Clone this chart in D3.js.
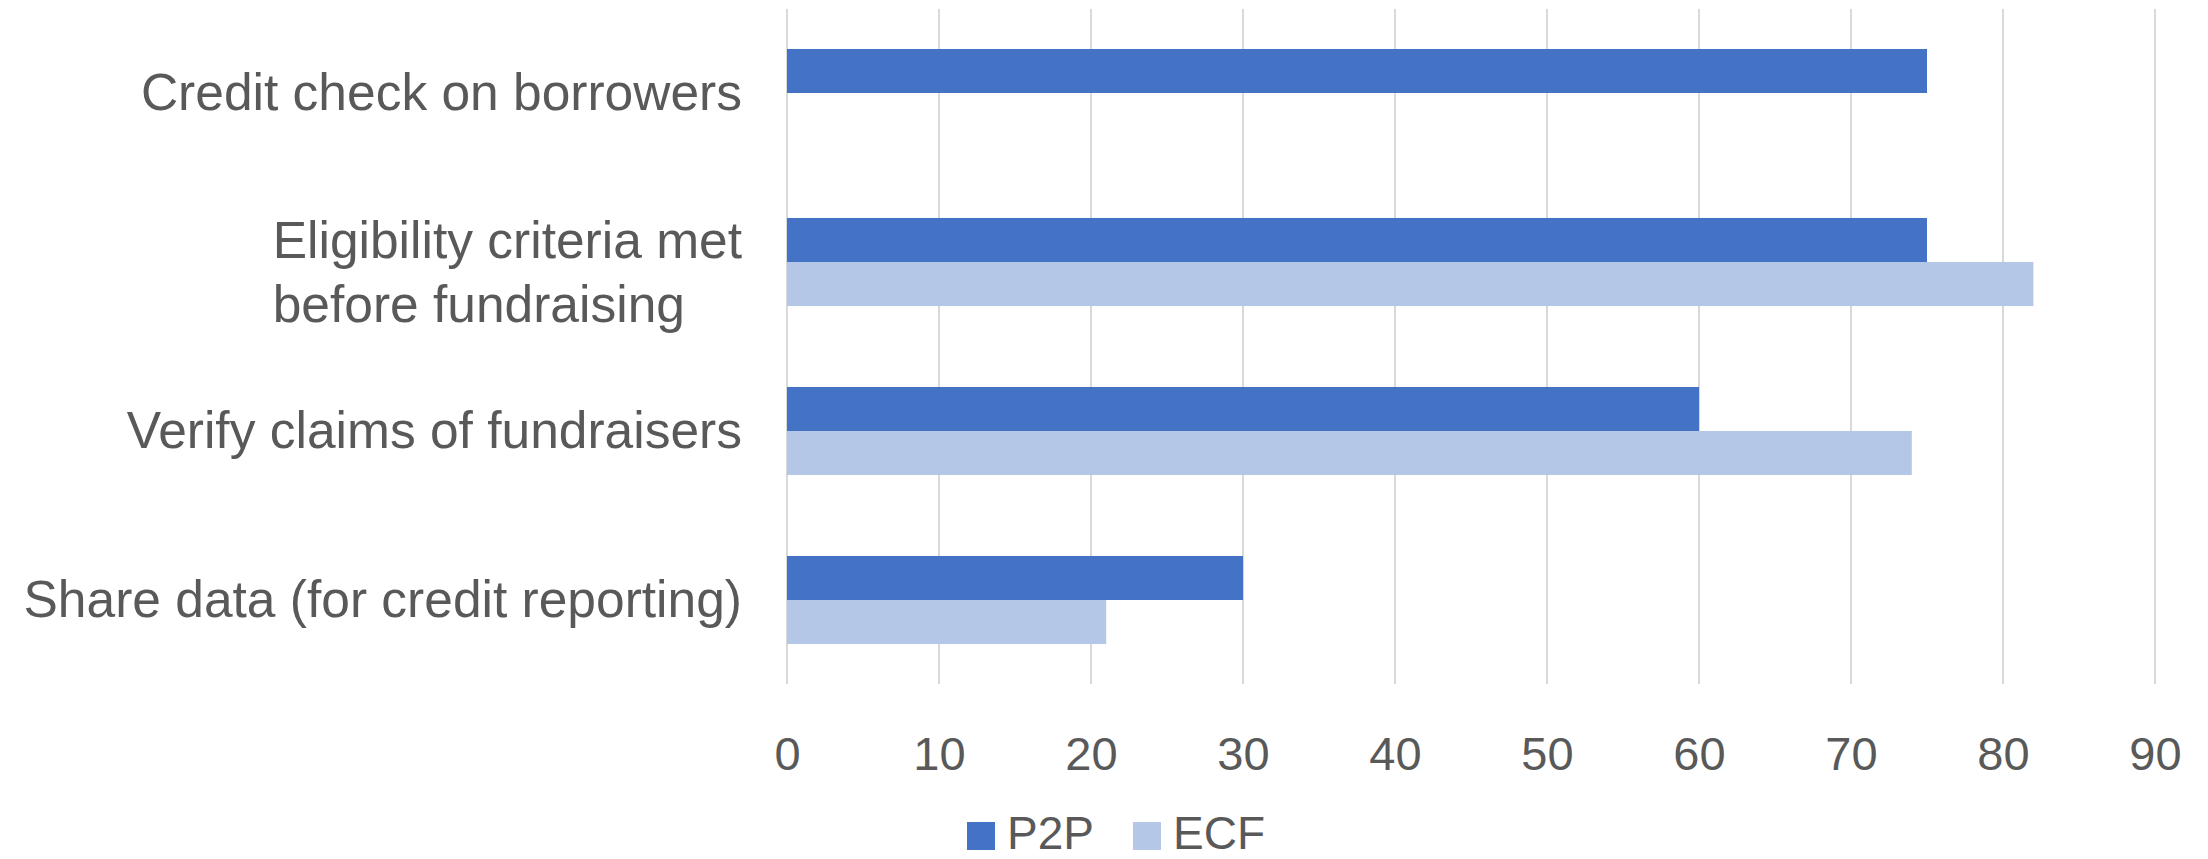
<!DOCTYPE html>
<html>
<head>
<meta charset="utf-8">
<script src="https://cdn.jsdelivr.net/npm/d3@7"></script>
<style>
  body { margin: 0; background: #fff; }
  text { font-family: "Liberation Sans", Arial, sans-serif; fill: #595959; }
</style>
</head>
<body>
<div id="chart"></div>
<script>
// data
var categories = [
  ["Credit check on borrowers"],
  ["Eligibility criteria met", "before fundraising"],
  ["Verify claims of fundraisers"],
  ["Share data (for credit reporting)"]
];
var seriesNames = ["P2P", "ECF"];
var p2pValues = [75, 75, 60, 30];
var ecfValues = [null, 82, 74, 21];
var xTicks = [0, 10, 20, 30, 40, 50, 60, 70, 80, 90];

var colors = {P2P: "#4472C4", ECF: "#B4C7E7"};

let svgWidth = 2208;
let svgHeight = 859;

let svg = d3.select("#chart")
  .append("svg")
  .attr("width", svgWidth)
  .attr("height", svgHeight);

let keys = categories.map((c, i) => "c" + i);

let x = d3.scaleLinear()
  .domain([0, 90])
  .range([787, 2155]);

let y = d3.scaleBand()
  .domain(keys)
  .range([8.5, 684.5])
  .paddingInner(0.479)
  .paddingOuter(0.2395);

let ySub = d3.scaleBand()
  .domain(seriesNames)
  .range([0, y.bandwidth()]);

// gridlines
svg.append("g")
  .selectAll("line")
  .data(xTicks)
  .enter()
  .append("line")
  .attr("x1", d => x(d))
  .attr("x2", d => x(d))
  .attr("y1", 9)
  .attr("y2", 684)
  .attr("stroke", "#D9D9D9")
  .attr("stroke-width", 2);

// bars
let rows = keys.map((k, i) => ({key: k, P2P: p2pValues[i], ECF: ecfValues[i]}));

let groups = svg.append("g")
  .selectAll("g")
  .data(rows)
  .enter()
  .append("g")
  .attr("transform", d => `translate(0, ${y(d.key)})`);

groups.selectAll("rect")
  .data(d => seriesNames.filter(s => d[s] != null).map(s => ({name: s, value: d[s]})))
  .enter()
  .append("rect")
  .attr("x", x(0))
  .attr("y", d => ySub(d.name))
  .attr("width", d => x(d.value) - x(0))
  .attr("height", ySub.bandwidth())
  .attr("fill", d => colors[d.name]);

// x tick labels
let xAxis = d3.axisBottom(x).tickValues(xTicks).tickSize(0).tickPadding(0);
let xg = svg.append("g")
  .attr("transform", "translate(0, 733)")
  .call(xAxis);
xg.select(".domain").remove();
xg.selectAll("text")
  .attr("dy", null)
  .attr("y", 37)
  .style("font-size", "47px")
  .style("font-family", "\"Liberation Sans\", Arial, sans-serif")
  .attr("fill", "#595959");

// category labels
categories.forEach((lines, i) => {
  let cy = y(keys[i]) + y.bandwidth() / 2;
  let t = svg.append("text")
    .attr("text-anchor", "end")
    .style("font-size", "51.5px");
  if (lines.length == 1) {
    t.append("tspan").attr("x", 742).attr("y", cy + 17).text(lines[0]);
  } else {
    t.append("tspan").attr("x", 742).attr("y", cy - 4).text(lines[0]);
    t.append("tspan").attr("x", 742).attr("y", cy + 60).text(lines[1]);
  }
  // second line of the two-line label is left aligned with the first
  if (lines.length == 2) {
    let first = t.select("tspan").node();
    let left = 742 - first.getComputedTextLength();
    t.attr("text-anchor", "start");
    t.selectAll("tspan").attr("x", left);
  }
});

// legend
let legend = svg.append("g");
let legendX = [967, 1133];
seriesNames.forEach((s, i) => {
  legend.append("rect")
    .attr("x", legendX[i])
    .attr("y", 822)
    .attr("width", 28)
    .attr("height", 28)
    .attr("fill", colors[s]);
  legend.append("text")
    .attr("x", legendX[i] + 40)
    .attr("y", 849)
    .style("font-size", "46px")
    .text(s);
});
</script>
</body>
</html>
